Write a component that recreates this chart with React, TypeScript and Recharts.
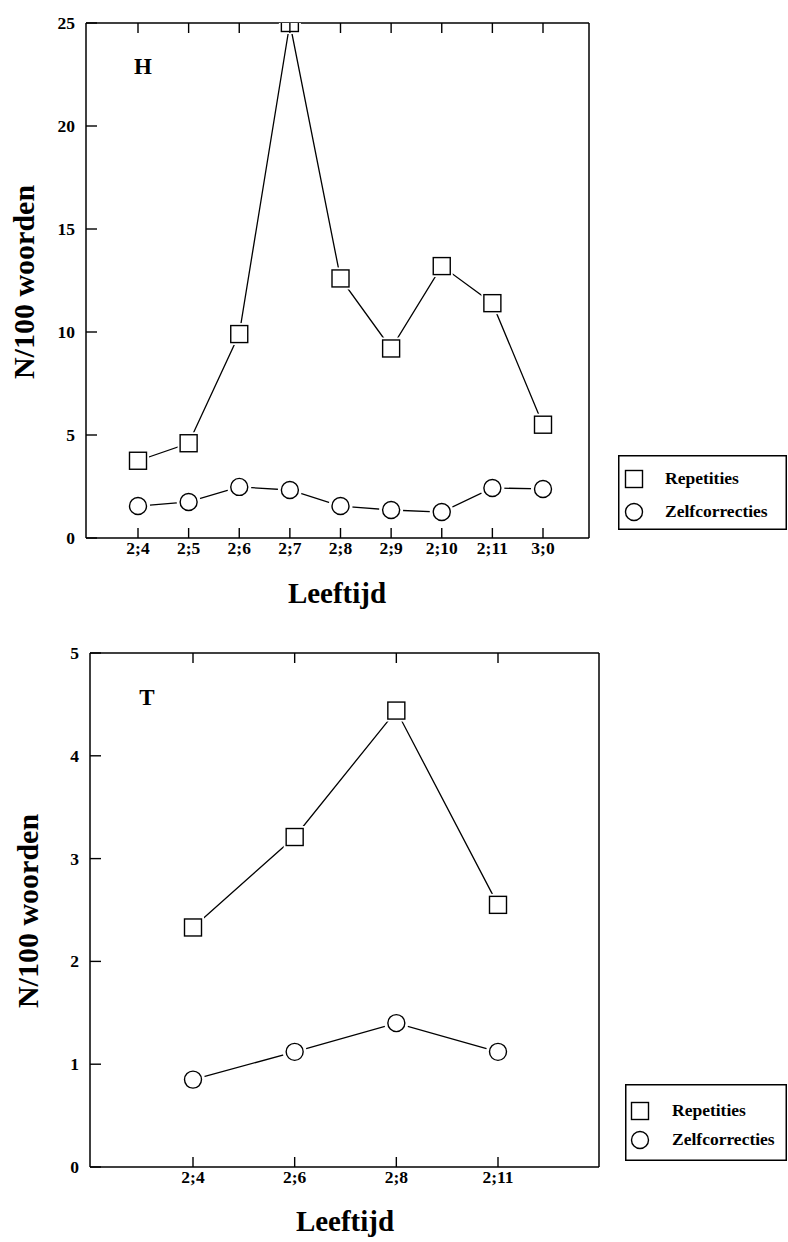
import { LineChart, Line, XAxis, YAxis, Legend } from 'recharts';

const FONT = '"Liberation Serif", "Times New Roman", serif';

// H panel
const ageLabelsH = ['2;4', '2;5', '2;6', '2;7', '2;8', '2;9', '2;10', '2;11', '3;0'];
const repetitiesH = [3.75, 4.6, 9.9, 25, 12.6, 9.2, 13.2, 11.4, 5.5];
const zelfcorrectiesH = [1.55, 1.75, 2.48, 2.33, 1.55, 1.36, 1.26, 2.43, 2.38];
const yTicksH = [0, 5, 10, 15, 20, 25];

// T panel
const ageLabelsT = ['2;4', '2;6', '2;8', '2;11'];
const repetitiesT = [2.33, 3.21, 4.44, 2.55];
const zelfcorrectiesT = [0.85, 1.12, 1.4, 1.12];
const yTicksT = [0, 1, 2, 3, 4, 5];

const seriesNames = ['Repetities', 'Zelfcorrecties'];

const BottomTick = ({ x, y, payload }: any) => (
  <g>
    <line x1={x} y1={y} x2={x} y2={y - 10} stroke="#000" strokeWidth={1.4} />
    <text x={x} y={y + 16} textAnchor="middle" fontFamily={FONT} fontWeight="bold" fontSize={17.5} fill="#000">
      {payload.value}
    </text>
  </g>
);

const TopTick = ({ x, y }: any) => (
  <line x1={x} y1={y} x2={x} y2={y + 10} stroke="#000" strokeWidth={1.4} />
);

const LeftTick = ({ x, y, payload }: any) => (
  <g>
    <line x1={x} y1={y} x2={x + 11} y2={y} stroke="#000" strokeWidth={1.4} />
    <text x={x - 11} y={y + 6} textAnchor="end" fontFamily={FONT} fontWeight="bold" fontSize={17.5} fill="#000">
      {payload.value}
    </text>
  </g>
);

const RightTick = ({ x, y }: any) => (
  <line x1={x} y1={y} x2={x - 10} y2={y} stroke="#000" strokeWidth={1.4} />
);

const SquareDot = ({ cx, cy }: any) => {
  if (cx == null || cy == null) return null;
  return (
    <g>
      <rect x={cx - 11} y={cy - 11} width={22} height={22} fill="#fff" />
      <rect x={cx - 8.5} y={cy - 8.5} width={17} height={17} fill="#fff" stroke="#000" strokeWidth={1.4} />
    </g>
  );
};

const CircleDot = ({ cx, cy }: any) => {
  if (cx == null || cy == null) return null;
  return (
    <g>
      <circle cx={cx} cy={cy} r={12} fill="#fff" />
      <circle cx={cx} cy={cy} r={8.5} fill="#fff" stroke="#000" strokeWidth={1.4} />
    </g>
  );
};

interface LegendLayout {
  w: number;
  h: number;
  iconX: number;
  rows: number[];
  textX: number;
}

const makeLegend = (lay: LegendLayout) => (props: any) => {
  const items = (props.payload || []) as any[];
  return (
    <svg width={lay.w} height={lay.h} style={{ display: 'block' }}>
      <rect x={0.75} y={0.75} width={lay.w - 1.5} height={lay.h - 1.5} fill="#fff" stroke="#000" strokeWidth={1.5} />
      {items.map((it, i) => {
        const cy = lay.rows[i];
        return (
          <g key={it.value}>
            {it.type === 'square' ? (
              <rect x={lay.iconX - 8.5} y={cy - 8.5} width={17} height={17} fill="#fff" stroke="#000" strokeWidth={1.4} />
            ) : (
              <circle cx={lay.iconX} cy={cy} r={8.5} fill="#fff" stroke="#000" strokeWidth={1.4} />
            )}
            <text x={lay.textX} y={cy + 5} fontFamily={FONT} fontWeight="bold" fontSize={17.5} fill="#000">
              {it.value}
            </text>
          </g>
        );
      })}
    </svg>
  );
};

interface PanelProps {
  letter: string;
  ages: string[];
  rep: number[];
  zelf: number[];
  yTicks: number[];
  height: number;
  margin: { top: number; right: number; bottom: number; left: number };
  padding: { left: number; right: number };
  letterPos: [number, number];
  yLabelPos: [number, number];
  xLabelPos: [number, number];
  legendPos: { left: number; top: number };
  legend: LegendLayout;
}

function Panel(p: PanelProps) {
  const data = p.ages.map((age, i) => ({ age, rep: p.rep[i], zelf: p.zelf[i] }));
  const yMax = p.yTicks[p.yTicks.length - 1];
  return (
    <LineChart width={788} height={p.height} data={data} margin={p.margin}>
      <XAxis
        dataKey="age"
        height={40}
        interval={0}
        padding={p.padding}
        tickSize={0}
        tickMargin={0}
        tickLine={false}
        axisLine={{ stroke: '#000', strokeWidth: 1.5 }}
        tick={<BottomTick />}
        label={{
          content: () => (
            <text
              x={p.xLabelPos[0]}
              y={p.xLabelPos[1]}
              textAnchor="middle"
              fontFamily={FONT}
              fontWeight="bold"
              fontSize={29}
              fill="#000"
            >
              Leeftijd
            </text>
          ),
        }}
      />
      <XAxis
        xAxisId="top"
        orientation="top"
        dataKey="age"
        height={10}
        interval={0}
        padding={p.padding}
        tickSize={0}
        tickMargin={0}
        tickLine={false}
        axisLine={{ stroke: '#000', strokeWidth: 1.5 }}
        tick={<TopTick />}
        label={{
          content: () => (
            <text
              x={p.letterPos[0]}
              y={p.letterPos[1]}
              textAnchor="middle"
              fontFamily={FONT}
              fontWeight="bold"
              fontSize={23}
              fill="#000"
            >
              {p.letter}
            </text>
          ),
        }}
      />
      <YAxis
        type="number"
        width={40}
        domain={[0, yMax]}
        ticks={p.yTicks}
        allowDataOverflow
        tickSize={0}
        tickMargin={0}
        tickLine={false}
        axisLine={{ stroke: '#000', strokeWidth: 1.5 }}
        tick={<LeftTick />}
        label={{
          content: () => (
            <text
              x={p.yLabelPos[0]}
              y={p.yLabelPos[1]}
              transform={`rotate(-90 ${p.yLabelPos[0]} ${p.yLabelPos[1]})`}
              textAnchor="middle"
              fontFamily={FONT}
              fontWeight="bold"
              fontSize={30}
              fill="#000"
            >
              N/100 woorden
            </text>
          ),
        }}
      />
      <YAxis
        yAxisId="right"
        orientation="right"
        type="number"
        width={10}
        domain={[0, yMax]}
        ticks={p.yTicks}
        tickSize={0}
        tickMargin={0}
        tickLine={false}
        axisLine={{ stroke: '#000', strokeWidth: 1.5 }}
        tick={<RightTick />}
      />
      <Legend
        layout="vertical"
        align="center"
        verticalAlign="middle"
        wrapperStyle={{ left: p.legendPos.left, top: p.legendPos.top, width: p.legend.w, height: p.legend.h }}
        content={makeLegend(p.legend)}
      />
      <Line
        dataKey="rep"
        name={seriesNames[0]}
        legendType="square"
        stroke="#000"
        strokeWidth={1.3}
        isAnimationActive={false}
        dot={(d: any) => <SquareDot key={`r-${d.index}`} {...d} />}
        activeDot={false}
      />
      <Line
        dataKey="zelf"
        name={seriesNames[1]}
        legendType="circle"
        stroke="#000"
        strokeWidth={1.3}
        isAnimationActive={false}
        dot={(d: any) => <CircleDot key={`z-${d.index}`} {...d} />}
        activeDot={false}
      />
    </LineChart>
  );
}

export default function App() {
  return (
    <div style={{ position: 'absolute', left: 0, top: 0, width: 788, height: 1242, background: '#fff' }}>
      <div style={{ position: 'absolute', left: 0, top: 0 }}>
        <Panel
          letter="H"
          ages={ageLabelsH}
          rep={repetitiesH}
          zelf={zelfcorrectiesH}
          yTicks={yTicksH}
          height={620}
          margin={{ top: 13, right: 189, bottom: 42, left: 46 }}
          padding={{ left: 52, right: 46 }}
          letterPos={[143, 74]}
          yLabelPos={[34, 282]}
          xLabelPos={[337, 603]}
          legendPos={{ left: 618, top: 455 }}
          legend={{ w: 169, h: 75, iconX: 16, rows: [24, 57], textX: 47 }}
        />
      </div>
      <div style={{ position: 'absolute', left: 0, top: 630 }}>
        <Panel
          letter="T"
          ages={ageLabelsT}
          rep={repetitiesT}
          zelf={zelfcorrectiesT}
          yTicks={yTicksT}
          height={612}
          margin={{ top: 13, right: 179, bottom: 35, left: 50 }}
          padding={{ left: 103, right: 101 }}
          letterPos={[147, 75]}
          yLabelPos={[38, 281]}
          xLabelPos={[345, 601]}
          legendPos={{ left: 625, top: 454 }}
          legend={{ w: 162, h: 77, iconX: 15, rows: [27, 56], textX: 47 }}
        />
      </div>
    </div>
  );
}
